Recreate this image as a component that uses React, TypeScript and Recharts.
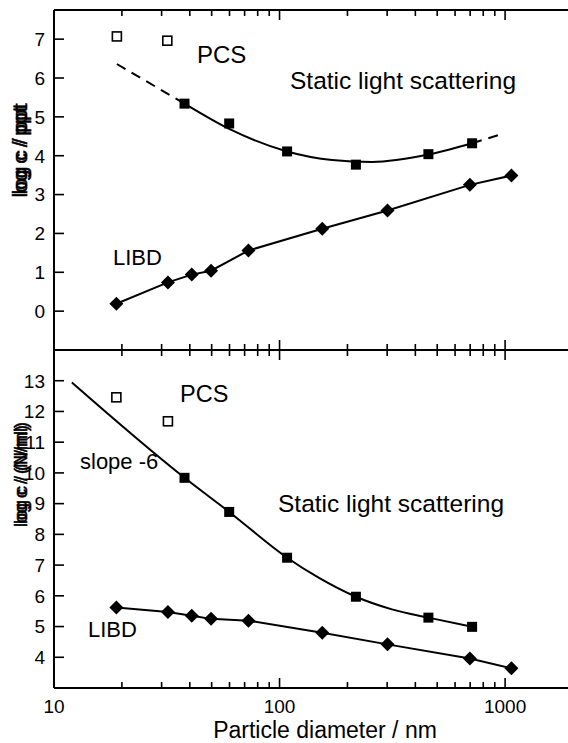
import { ComposedChart, Line, Scatter, XAxis, YAxis } from "recharts";

const FONT = '"Liberation Sans", Arial, sans-serif';

// shared log axis
const X_DOMAIN = [10, 2000];
const X_TICKS = [10, 20, 30, 40, 50, 60, 70, 80, 90, 100, 200, 300, 400, 500, 600, 700, 800, 900, 1000];
const X_MAJOR = [10, 100, 1000];

// upper panel: log c / ppt
const TOP_Y_DOMAIN = [-1, 7.75];
const TOP_Y_TICKS = [0, 1, 2, 3, 4, 5, 6, 7];

const topPcsX = [19.0, 31.8];
const topPcsY = [7.07, 6.96];

const topSlsX = [37.9, 59.8, 108, 218, 457, 714];
const topSlsY = [5.34, 4.83, 4.11, 3.77, 4.04, 4.32];

const topFitX = [37.9, 59.8, 108, 171, 257, 457, 714];
const topFitY = [5.34, 4.69, 4.11, 3.89, 3.84, 4.03, 4.32];
const topFitLeftX = [19.0, 37.9];
const topFitLeftY = [6.36, 5.34];
const topFitRightX = [714, 970];
const topFitRightY = [4.32, 4.56];

const libdX = [18.9, 32, 40.8, 49.7, 72.8, 154.6, 301, 698, 1067];
const topLibdY = [0.19, 0.74, 0.94, 1.04, 1.56, 2.12, 2.59, 3.25, 3.49];

// lower panel: log c / (N/ml)
const BOT_Y_DOMAIN = [3, 14];
const BOT_Y_TICKS = [4, 5, 6, 7, 8, 9, 10, 11, 12, 13];

const botPcsX = [18.9, 32];
const botPcsY = [12.46, 11.68];

const botSlsX = [37.9, 59.8, 108, 218, 457, 714];
const botSlsY = [9.84, 8.73, 7.24, 5.97, 5.29, 4.99];

const botFitX = [12, 37.9, 59.8, 108, 149, 218, 315, 457, 714];
const botFitY = [12.94, 9.84, 8.73, 7.24, 6.59, 5.97, 5.56, 5.29, 4.99];

const botLibdY = [5.62, 5.47, 5.35, 5.25, 5.19, 4.8, 4.42, 3.96, 3.64];

const zip = (xs: number[], ys: number[]) => xs.map((x, i) => ({ x, y: ys[i] }));

const openSquare = (p: any) => (
  <rect x={p.cx - 4.5} y={p.cy - 4.5} width={9} height={9} fill="#fff" stroke="#000" strokeWidth={1.6} />
);
const filledSquare = (p: any) => (
  <rect x={p.cx - 5} y={p.cy - 5} width={10} height={10} fill="#000" />
);
const diamond = (p: any) => (
  <polygon
    points={`${p.cx},${p.cy - 7} ${p.cx + 7},${p.cy} ${p.cx},${p.cy + 7} ${p.cx - 7},${p.cy}`}
    fill="#000"
  />
);

// x ticks drawn by hand: dir = +1 points down, -1 points up
const makeXTick = (dir: number, labels: boolean) => (props: any) => {
  const { x, y, payload } = props;
  const v = payload.value;
  const major = X_MAJOR.includes(v);
  const len = major ? 10 : 6;
  return (
    <g>
      <line x1={x} x2={x} y1={y} y2={y + dir * len} stroke="#000" strokeWidth={1.6} />
      {labels && major && (
        <text x={x} y={y + 25} textAnchor="middle" fontSize={19} fontFamily={FONT} fill="#000">
          {v}
        </text>
      )}
    </g>
  );
};

const makeYTick = (dir: number, labels: boolean) => (props: any) => {
  const { x, y, payload } = props;
  return (
    <g>
      <line x1={x} x2={x + dir * 10} y1={y} y2={y} stroke="#000" strokeWidth={1.6} />
      {labels && (
        <text x={x - 9} y={y} dy="0.36em" textAnchor="end" fontSize={19} fontFamily={FONT} fill="#000">
          {payload.value}
        </text>
      )}
    </g>
  );
};

const axisLine = { stroke: "#000", strokeWidth: 2 };

function Axes({ yDomain, yTicks, bottomLabels, topH, bottomH }: any) {
  return [
    <XAxis
      key="xb"
      dataKey="x"
      type="number"
      scale="log"
      domain={X_DOMAIN}
      allowDataOverflow
      ticks={X_TICKS}
      interval={0}
      height={bottomH}
      tickSize={0}
      tickMargin={0}
      tickLine={false}
      axisLine={axisLine}
      tick={makeXTick(-1, bottomLabels)}
    />,
    <XAxis
      key="xt"
      xAxisId="top"
      orientation="top"
      dataKey="x"
      type="number"
      scale="log"
      domain={X_DOMAIN}
      allowDataOverflow
      ticks={X_TICKS}
      interval={0}
      height={topH}
      tickSize={0}
      tickMargin={0}
      tickLine={false}
      axisLine={axisLine}
      tick={makeXTick(1, false)}
    />,
    <YAxis
      key="yl"
      dataKey="y"
      type="number"
      domain={yDomain}
      ticks={yTicks}
      interval={0}
      width={54}
      tickSize={0}
      tickMargin={0}
      tickLine={false}
      axisLine={axisLine}
      tick={makeYTick(1, true)}
    />,
    <YAxis
      key="yr"
      yAxisId="right"
      orientation="right"
      type="number"
      domain={yDomain}
      ticks={yTicks}
      interval={0}
      width={27}
      tickSize={0}
      tickMargin={0}
      tickLine={false}
      axisLine={axisLine}
      tick={makeYTick(-1, false)}
    />,
  ];
}

const txt = { fontFamily: FONT, fill: "#000" } as const;

function YTitle({ cx, cy, size, label }: { cx: number; cy: number; size: number; label: string }) {
  // the title is printed twice with a small shift, as in the original figure
  return (
    <g>
      {[0, 3].map((s) => (
        <text
          key={s}
          x={cx + s}
          y={cy}
          transform={`rotate(-90 ${cx} ${cy})`}
          textAnchor="middle"
          fontSize={size}
          stroke="#000"
          strokeWidth={0.5}
          {...txt}
        >
          {label}
        </text>
      ))}
    </g>
  );
}

export default function App() {
  return (
    <div
      style={{
        position: "absolute",
        left: 0,
        top: 0,
        width: 568,
        height: 743,
        overflow: "hidden",
        background: "#fff",
      }}
    >
      <div style={{ position: "absolute", left: 0, top: 0 }}>
        <ComposedChart width={600} height={360} margin={{ top: 0, right: 0, bottom: 0, left: 0 }}>
          {Axes({ yDomain: TOP_Y_DOMAIN, yTicks: TOP_Y_TICKS, bottomLabels: false, topH: 10, bottomH: 10 })}
          <Line data={zip(topFitLeftX, topFitLeftY)} dataKey="y" type="linear" stroke="#000" strokeWidth={2} strokeDasharray="10 7" dot={false} isAnimationActive={false} />
          <Line data={zip(topFitX, topFitY)} dataKey="y" type="monotone" stroke="#000" strokeWidth={2} dot={false} isAnimationActive={false} />
          <Line data={zip(topFitRightX, topFitRightY)} dataKey="y" type="linear" stroke="#000" strokeWidth={2} strokeDasharray="10 7" dot={false} isAnimationActive={false} />
          <Line data={zip(libdX, topLibdY)} dataKey="y" type="linear" stroke="#000" strokeWidth={2} dot={false} isAnimationActive={false} />
          <Scatter data={zip(topPcsX, topPcsY)} dataKey="y" shape={openSquare} isAnimationActive={false} />
          <Scatter data={zip(topSlsX, topSlsY)} dataKey="y" shape={filledSquare} isAnimationActive={false} />
          <Scatter data={zip(libdX, topLibdY)} dataKey="y" shape={diamond} isAnimationActive={false} />
        </ComposedChart>
      </div>
      <div style={{ position: "absolute", left: 0, top: 340 }}>
        <ComposedChart width={600} height={403} margin={{ top: 0, right: 0, bottom: 0, left: 0 }}>
          {Axes({ yDomain: BOT_Y_DOMAIN, yTicks: BOT_Y_TICKS, bottomLabels: true, topH: 10, bottomH: 55 })}
          <Line data={zip(botFitX, botFitY)} dataKey="y" type="monotone" stroke="#000" strokeWidth={2} dot={false} isAnimationActive={false} />
          <Line data={zip(libdX, botLibdY)} dataKey="y" type="linear" stroke="#000" strokeWidth={2} dot={false} isAnimationActive={false} />
          <Scatter data={zip(botPcsX, botPcsY)} dataKey="y" shape={openSquare} isAnimationActive={false} />
          <Scatter data={zip(botSlsX, botSlsY)} dataKey="y" shape={filledSquare} isAnimationActive={false} />
          <Scatter data={zip(libdX, botLibdY)} dataKey="y" shape={diamond} isAnimationActive={false} />
        </ComposedChart>
      </div>
      <svg
        width={568}
        height={743}
        style={{ position: "absolute", left: 0, top: 0, pointerEvents: "none" }}
      >
        <text x={197} y={63} fontSize={24} {...txt}>PCS</text>
        <text x={290} y={89} fontSize={24.5} {...txt}>Static light scattering</text>
        <text x={113} y={265} fontSize={22} {...txt}>LIBD</text>
        <text x={180} y={402} fontSize={23.5} {...txt}>PCS</text>
        <text x={80} y={469} fontSize={22} {...txt}>slope -6</text>
        <text x={278} y={512} fontSize={24.5} {...txt}>Static light scattering</text>
        <text x={88} y={637} fontSize={22} {...txt}>LIBD</text>
        <text x={325} y={738} fontSize={23} textAnchor="middle" {...txt}>Particle diameter / nm</text>
        <YTitle cx={27} cy={152} size={21} label="log c / ppt" />
        <YTitle cx={27} cy={476} size={18} label="log c / (N/ml)" />
      </svg>
    </div>
  );
}
